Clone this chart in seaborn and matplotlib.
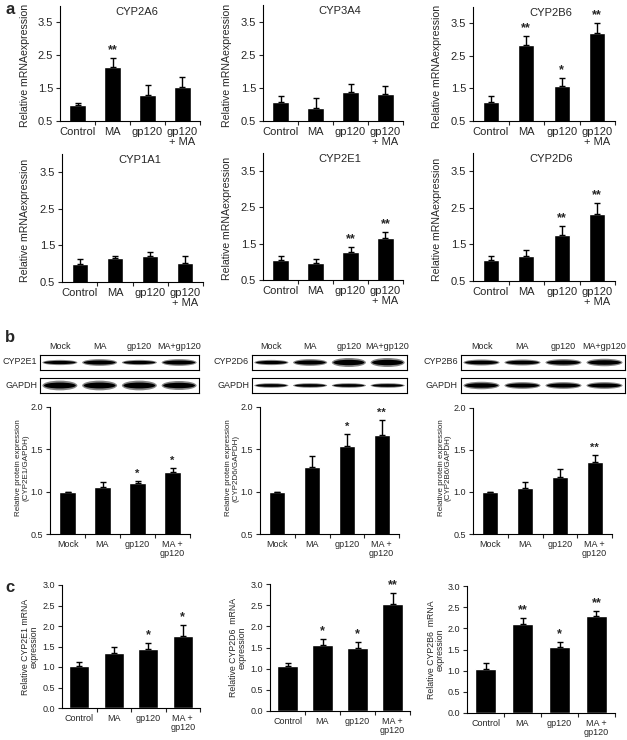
import numpy as np
import pandas as pd
import matplotlib
matplotlib.use('Agg')
import matplotlib.pyplot as plt
from matplotlib.patches import Ellipse
import seaborn as sns

sns.set_style('ticks')
plt.rcParams['font.family'] = ['Liberation Sans', 'DejaVu Sans']

W, H = 627, 740

# ---- data ----
groups_a = ['Control', 'MA', 'gp120', 'gp120\n+ MA']
groups_b = ['Mock', 'MA', 'gp120', 'MA +\ngp120']
groups_c = ['Control', 'MA', 'gp120', 'MA +\ngp120']
lanes = ['Mock', 'MA', 'gp120', 'MA+gp120']

# panel a: relative mRNA expression
a_names = ['CYP2A6', 'CYP3A4', 'CYP2B6', 'CYP1A1', 'CYP2E1', 'CYP2D6']
a_vals = [[1.00, 2.15, 1.28, 1.52],
          [1.07, 0.88, 1.37, 1.30],
          [1.07, 2.83, 1.57, 3.20],
          [1.00, 1.15, 1.20, 1.03],
          [1.05, 0.97, 1.28, 1.67],
          [1.07, 1.17, 1.75, 2.33]]
a_errs = [[0.05, 0.27, 0.32, 0.33],
          [0.18, 0.30, 0.25, 0.25],
          [0.20, 0.27, 0.26, 0.30],
          [0.12, 0.05, 0.13, 0.17],
          [0.12, 0.10, 0.14, 0.16],
          [0.11, 0.18, 0.25, 0.29]]
a_stars = [['', '**', '', ''],
           ['', '', '', ''],
           ['', '**', '*', '**'],
           ['', '', '', ''],
           ['', '', '**', '**'],
           ['', '', '**', '**']]

# panel b: protein expression (western blot quantification)
b_names = ['CYP2E1', 'CYP2D6', 'CYP2B6']
b_vals = [[1.00, 1.06, 1.10, 1.23],
          [1.00, 1.29, 1.54, 1.67],
          [1.00, 1.05, 1.18, 1.36]]
b_errs = [[0.0, 0.05, 0.03, 0.05],
          [0.0, 0.13, 0.14, 0.18],
          [0.0, 0.07, 0.09, 0.08]]
b_stars = [['', '', '*', '*'],
           ['', '', '*', '**'],
           ['', '', '', '**']]
# band thickness per lane (target, GAPDH)
b_band_cyp = [[0.35, 0.45, 0.35, 0.45],
              [0.35, 0.45, 0.60, 0.60],
              [0.40, 0.40, 0.45, 0.50]]
b_band_gapdh = [[0.65, 0.65, 0.65, 0.60],
                [0.30, 0.30, 0.30, 0.30],
                [0.50, 0.45, 0.45, 0.45]]

# panel c: relative mRNA expression
c_names = ['CYP2E1', 'CYP2D6', 'CYP2B6']
c_vals = [[1.03, 1.33, 1.45, 1.75],
          [1.06, 1.55, 1.50, 2.52],
          [1.03, 2.10, 1.57, 2.28]]
c_errs = [[0.09, 0.15, 0.13, 0.27],
          [0.08, 0.15, 0.12, 0.26],
          [0.14, 0.15, 0.11, 0.12]]
c_stars = [['', '', '*', '*'],
           ['', '*', '*', '**'],
           ['', '**', '*', '**']]


def px_axes(fig, x0, y0, x1, y1):
    return fig.add_axes([x0 / W, 1 - y1 / H, (x1 - x0) / W, (y1 - y0) / H])


def bar_panel(ax, groups, vals, errs, stars, ylim, yticks, fs, width, star_fs, yfmt):
    df = pd.DataFrame({'group': groups, 'value': vals})
    sns.barplot(data=df, x='group', y='value', color='black', width=width,
                errorbar=None, ax=ax, saturation=1)
    ax.errorbar(range(len(vals)), vals, yerr=[np.zeros(len(vals)), errs],
                fmt='none', ecolor='black', elinewidth=1.0, capsize=2.2, capthick=1.0)
    ax.set_xlim(-0.5, 3.5)
    ax.set_ylim(*ylim)
    ax.set_yticks(yticks)
    ax.set_yticklabels([yfmt % t for t in yticks], fontsize=fs)
    ax.set_xticks(range(4))
    ax.set_xticklabels(groups, fontsize=fs, linespacing=1.0)
    ax.set_xticks([0.5, 1.5, 2.5, 3.5], minor=True)
    ax.tick_params(axis='x', which='major', length=0, pad=4)
    ax.tick_params(axis='x', which='minor', length=3, width=0.8, direction='out')
    ax.tick_params(axis='y', length=3, width=0.8, direction='out', pad=2)
    ax.set_xlabel('')
    ax.set_ylabel('')
    for s in ['top', 'right']:
        ax.spines[s].set_visible(False)
    for s in ['left', 'bottom']:
        ax.spines[s].set_linewidth(0.8)
        ax.spines[s].set_color('black')
    span = ylim[1] - ylim[0]
    for i, st in enumerate(stars):
        if st:
            ax.text(i, vals[i] + errs[i] + span * 0.015, st, ha='center', va='bottom',
                    fontsize=star_fs, fontweight='bold')


def blot(ax, bands):
    ax.set_xlim(-0.5, 3.5)
    ax.set_ylim(0, 1)
    ax.set_xticks([])
    ax.set_yticks([])
    for s in ax.spines.values():
        s.set_linewidth(0.8)
        s.set_color('black')
    for i, h in enumerate(bands):
        ax.add_patch(Ellipse((i, 0.5), 0.88, h, color='#333333', alpha=0.6, lw=0))
        ax.add_patch(Ellipse((i, 0.5), 0.80, h * 0.6, color='black', lw=0))


fig = plt.figure(figsize=(W / 100, H / 100), dpi=100)

# ---- panel a ----
a_boxes = [(60, 6, 200, 121), (263, 5, 403, 121), (473, 7, 615, 121),
           (62, 154, 203, 282), (263, 153, 403, 280), (473, 153, 615, 281)]
a_ylab_x = [25, 227, 437, 25, 227, 437]
for k, (box, name) in enumerate(zip(a_boxes, a_names)):
    ax = px_axes(fig, *box)
    bar_panel(ax, groups_a, a_vals[k], a_errs[k], a_stars[k], (0.5, 4.0),
              [0.5, 1.5, 2.5, 3.5], 8, 0.46, 9, '%.1f')
    ax.text(0.55, 0.95, name, transform=ax.transAxes, ha='center', va='center', fontsize=8)
    fig.text(a_ylab_x[k] / W, 1 - ((box[1] + box[3]) / 2 + 2) / H, 'Relative mRNAexpression',
             rotation=90, ha='center', va='center', fontsize=7.6)

# ---- panel b ----
blot_x = [(40, 199), (252, 407), (461, 625)]
b_boxes = [(50, 407, 190, 534), (260, 407, 399, 534), (473, 408, 612, 534)]
b_ylab_x = [22, 232, 445]
for k in range(3):
    x0, x1 = blot_x[k]
    ax_t = px_axes(fig, x0, 355, x1, 370)
    blot(ax_t, b_band_cyp[k])
    ax_g = px_axes(fig, x0, 378, x1, 393)
    blot(ax_g, b_band_gapdh[k])
    for i, lane in enumerate(lanes):
        ax_t.text(i, 1.55, lane, ha='center', va='center', fontsize=6.5)
    fig.text((x0 - 3) / W, 1 - 362 / H, b_names[k], ha='right', va='center', fontsize=6.5)
    fig.text((x0 - 3) / W, 1 - 386 / H, 'GAPDH', ha='right', va='center', fontsize=6.5)

    ax = px_axes(fig, *b_boxes[k])
    bar_panel(ax, groups_b, b_vals[k], b_errs[k], b_stars[k], (0.5, 2.0),
              [0.5, 1.0, 1.5, 2.0], 6.5, 0.46, 8, '%.1f')
    fig.text(b_ylab_x[k] / W, 1 - 468 / H,
             'Relative protein expression\n(%s/GAPDH)' % b_names[k],
             rotation=90, ha='center', va='center', fontsize=5.8, linespacing=1.0)

# ---- panel c ----
c_boxes = [(62, 585, 200, 708), (270, 584, 410, 711), (467, 586, 615, 713)]
c_ylab_x = [30, 238, 436]
c_labels = ['Relative CYP2E1 mRNA\nexpression', 'Relative CYP2D6  mRNA\nexpression',
            'Relative CYP2B6  mRNA\nexpression']
for k in range(3):
    ax = px_axes(fig, *c_boxes[k])
    bar_panel(ax, groups_c, c_vals[k], c_errs[k], c_stars[k], (0.0, 3.0),
              [0.0, 0.5, 1.0, 1.5, 2.0, 2.5, 3.0], 6.5, 0.58, 9, '%.1f')
    fig.text(c_ylab_x[k] / W, 1 - ((c_boxes[k][1] + c_boxes[k][3]) / 2) / H, c_labels[k],
             rotation=90, ha='center', va='center', fontsize=6.3, linespacing=1.0)

# panel letters
for letter, y in [('a', 10), ('b', 338), ('c', 588)]:
    fig.text(5 / W, 1 - y / H, letter, fontsize=12, fontweight='bold', ha='left', va='center')

fig.savefig('out.png', dpi=100)
